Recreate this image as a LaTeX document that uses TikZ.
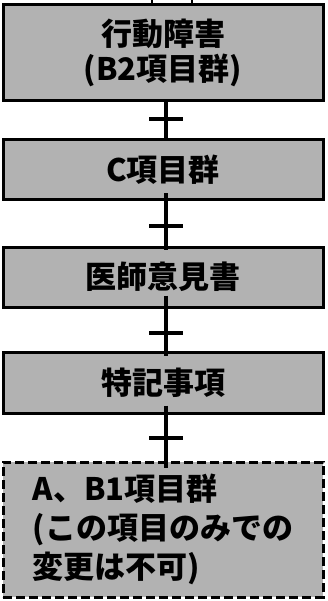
\documentclass[tikz,border=0pt]{standalone}
\usepackage{fontspec}
\newfontfamily\jp{Noto Sans CJK JP}
\begin{document}
\begin{tikzpicture}[x=1pt,y=-1pt,
  box/.style={draw=black, line width=3pt, fill=black!30, minimum width=320pt,
    inner sep=0pt, align=center, text=black, font=\jp\bfseries\fontsize{31}{35}\selectfont},
  dashbox/.style={box, dash pattern=on 9pt off 4pt, align=left,
    font=\jp\bfseries\fontsize{31}{39}\selectfont},
  plusline/.style={line width=3.6pt, black},
  frag/.style={line width=2pt, black}]
\useasboundingbox (0,0) rectangle (327,601);
% fragment of an element above
\coordinate (fa) at (152,-10);
\coordinate (fb) at (192,5);
\draw[frag] (fa) rectangle (fb);
% boxes
\node[box, minimum height=96pt] (b1) at (163,53) {行動障害\\(B2項目群)};
\node[box, minimum height=60pt] (b2) at (163,170) {C項目群};
\node[box, minimum height=60pt] (b3) at (163,277) {医師意見書};
\node[box, minimum height=61pt] (b4) at (163,382.5) {特記事項};
\node[dashbox, minimum height=135pt] (b5) at (163,529.5) {A、B1項目群\\(この項目のみでの\\変更は不可)};
% plus connectors
\coordinate (p1) at (166,119);
\coordinate (p2) at (166,226);
\coordinate (p3) at (166,333);
\coordinate (p4) at (166,438);
\draw[plusline] (b1.south -| p1) -- ([yshift=-3pt]b2.north -| p1);
\draw[plusline] ([xshift=-17pt]p1) -- ([xshift=17pt]p1);
\draw[plusline] ([yshift=8pt]b2.south -| p2) -- ([yshift=-4pt]b3.north -| p2);
\draw[plusline] ([xshift=-17pt]p2) -- ([xshift=17pt]p2);
\draw[plusline] ([yshift=13pt]b3.south -| p3) -- ([yshift=-5pt]b4.north -| p3);
\draw[plusline] ([xshift=-17pt]p3) -- ([xshift=17pt]p3);
\draw[plusline] ([yshift=9pt]b4.south -| p4) -- ([yshift=-7pt]b5.north -| p4);
\draw[plusline] ([xshift=-17pt]p4) -- ([xshift=17pt]p4);
\end{tikzpicture}
\end{document}
